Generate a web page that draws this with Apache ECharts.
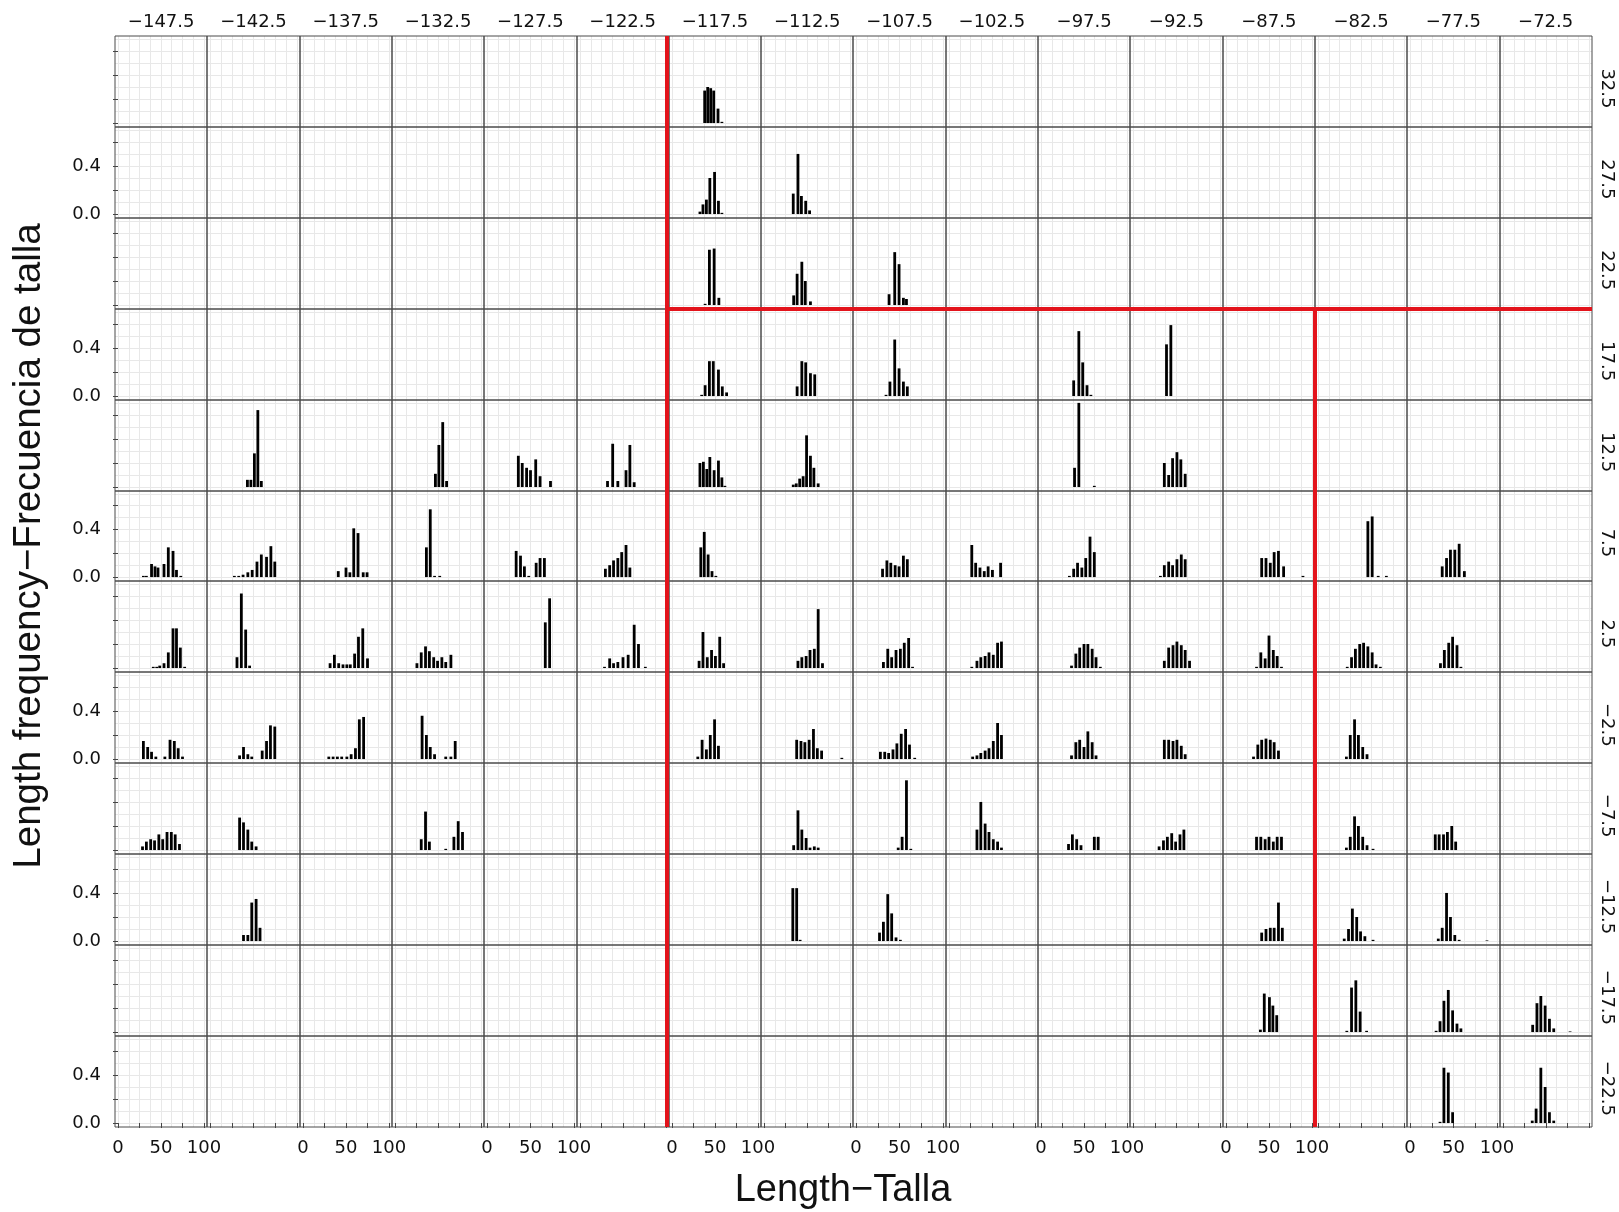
<!DOCTYPE html>
<html><head><meta charset="utf-8">
<script src="https://cdn.jsdelivr.net/npm/echarts@6/dist/echarts.min.js"></script>
<style>html,body{margin:0;padding:0;background:#fff}#c{width:1619px;height:1212px}</style>
</head><body><div id="c"></div>
<script>
// ---- facets ----
const lonVals = [-147.5,-142.5,-137.5,-132.5,-127.5,-122.5,-117.5,-112.5,-107.5,-102.5,-97.5,-92.5,-87.5,-82.5,-77.5,-72.5];
const latVals = [32.5,27.5,22.5,17.5,12.5,7.5,2.5,-2.5,-7.5,-12.5,-17.5,-22.5];
const xTickValues = [0,25,50,75,100];
const xTickLabels = [0,50,100];
const xGridValues = [0,12.5,25,37.5,50,62.5,75,87.5,100];
const yTickValues = [0,0.2,0.4,0.6];
const yTickLabels = [0,0.4];
const yGridValues = [0,0.1,0.2,0.3,0.4,0.5,0.6,0.7];

// ---- length-frequency histograms [length, frequency] ----
const h117n32 = [[38,.27],[41.5,.30],[45,.29],[48.5,.27],[53.5,.12],[58,.01]];
const h117n27 = [[32.5,.02],[36,.08],[40,.12],[44,.30],[49.5,.35],[54,.11],[58,.01]];
const h112n27 = [[34,.17],[39.5,.50],[43.5,.15],[48.5,.11],[53,.03]];
const h117n22 = [[38.5,.01],[43.5,.46],[49,.47],[54.5,.06]];
const h112n22 = [[34.5,.08],[38.5,.26],[44,.36],[48,.20],[54,.03]];
const h107n22 = [[38,.09],[44.5,.44],[49.5,.34],[54.5,.06],[58,.05]];
const h117n17 = [[34.5,.01],[38.5,.09],[43.5,.29],[48,.29],[54,.22],[58.5,.08],[63.5,.03]];
const h112n17 = [[38.5,.08],[44,.29],[48.5,.28],[54,.19],[59,.18]];
const h107n17 = [[34.5,.01],[39,.12],[44.5,.47],[49.5,.23],[54.5,.12],[59,.08]];
const h97n17 = [[38,.13],[44,.54],[48.5,.28],[53.5,.09],[58,.01]];
const h92n17 = [[38.5,.43],[43.5,.59]];
const h142n12 = [[43,.06],[47,.06],[51,.28],[55,.64],[59,.05]];
const h132n12 = [[47,.11],[51,.35],[55.5,.54],[60,.05]];
const h127n12 = [[36,.26],[40.5,.20],[45.5,.16],[50,.14],[56,.23],[61,.09],[73,.05]];
const h122n12 = [[32,.05],[38,.36],[44,.05],[53.5,.14],[58,.35],[63,.04]];
const h117n12 = [[32.5,.20],[36.5,.21],[40.5,.15],[44,.25],[49,.14],[54,.22],[58,.08],[61.5,.01]];
const h112n12 = [[34,.02],[37.5,.03],[41.5,.07],[45.5,.09],[49.5,.43],[54,.26],[58,.16],[63,.03]];
const h97n12 = [[39,.16],[44,.70],[62,.01]];
const h92n12 = [[36,.20],[41,.10],[45.5,.24],[50.5,.29],[55,.23],[60,.11]];
const h147n7 = [[29.5,.01],[33,.01],[39,.11],[43,.09],[46.5,.08],[53.5,.11],[58.5,.25],[64,.22],[68,.06],[73,.01]];
const h142n7 = [[28,.01],[33,.01],[38,.02],[43.5,.04],[48.5,.06],[54,.13],[59,.19],[65,.17],[70,.26],[74.5,.13]];
const h137n7 = [[41,.05],[50,.08],[54.5,.04],[59,.41],[64,.37],[70,.04],[74.5,.04]];
const h132n7 = [[36.5,.25],[41,.57],[46,.01],[52,.01]];
const h127n7 = [[33.5,.22],[38.5,.18],[43,.09],[48,.01],[56.5,.12],[61,.16],[66,.16]];
const h122n7 = [[29.5,.07],[34.5,.10],[39,.14],[44,.16],[48.5,.21],[53.5,.27],[58,.08]];
const h117n7 = [[33.5,.25],[37.5,.38],[42,.19],[46.5,.05],[51,.01]];
const h107n7 = [[30.5,.07],[35.5,.14],[40,.12],[45,.10],[49.5,.09],[54.5,.18],[59,.15]];
const h102n7 = [[26.5,.27],[31,.12],[36,.08],[41,.05],[45.5,.09],[50.5,.06],[60,.12]];
const h97n7 = [[33,.01],[38,.07],[42.5,.12],[47.5,.08],[52,.16],[57,.34],[62,.21]];
const h92n7 = [[31.5,.01],[36,.10],[41,.13],[45.5,.10],[50.5,.15],[55.5,.19],[60,.15]];
const h87n7 = [[41.5,.16],[46.5,.16],[51.5,.12],[56,.21],[61,.22],[67,.09],[89.5,.01]];
const h82n7 = [[58,.47],[63,.51],[70,.01],[79.5,.01]];
const h77n7 = [[37,.09],[42,.16],[46.5,.23],[51.5,.23],[56.5,.28],[62.5,.05]];
const h147n2 = [[41,.01],[45,.01],[48.5,.02],[53.5,.04],[58.5,.13],[64,.33],[68,.33],[72.5,.17],[77.5,.01]];
const h142n2 = [[31,.09],[36,.62],[41,.32],[45.5,.02]];
const h137n2 = [[31.5,.04],[36.5,.11],[41.5,.04],[46.5,.03],[51,.03],[55,.03],[60,.12],[64.5,.26],[69.5,.33],[75,.08]];
const h132n2 = [[25.5,.04],[30.5,.13],[35.5,.18],[40,.14],[45,.09],[49.5,.06],[54.5,.09],[59,.05],[65,.11]];
const h127n2 = [[67,.38],[72,.58]];
const h122n2 = [[28.5,.01],[34.5,.08],[39,.04],[44,.05],[50,.09],[56,.11],[63,.36],[68,.20],[76,.01]];
const h117n2 = [[31.5,.06],[36,.30],[41,.09],[46,.15],[50.5,.10],[55.5,.26],[60,.04]];
const h112n2 = [[39.5,.06],[44,.09],[49,.10],[53.5,.15],[58.5,.16],[63,.49],[68,.04]];
const h107n2 = [[31.5,.05],[36.5,.16],[41,.09],[46,.15],[51,.16],[55.5,.21],[60.5,.25],[65,.01]];
const h102n2 = [[26.5,.01],[32.5,.06],[37,.09],[42,.10],[46.5,.13],[51.5,.11],[56.5,.21],[61,.22]];
const h97n2 = [[35.5,.02],[40.5,.12],[45,.17],[50,.20],[54.5,.20],[59.5,.16],[64,.09],[69,.01]];
const h92n2 = [[36,.06],[41,.17],[46,.19],[50.5,.22],[55.5,.19],[60,.15],[65,.06]];
const h87n2 = [[35.5,.01],[40.5,.13],[45.5,.08],[50,.27],[55,.15],[59.5,.10],[64.5,.01]];
const h82n2 = [[34,.01],[39,.09],[43.5,.16],[48.5,.20],[53,.21],[58,.18],[63,.13],[67.5,.03],[72.5,.01]];
const h77n2 = [[35,.04],[39.5,.15],[44.5,.21],[49,.26],[54,.19],[58.5,.01]];
const h147s2 = [[29.5,.15],[34.5,.10],[39,.06],[44,.02],[54.5,.02],[60.5,.16],[65.5,.15],[70,.09],[75,.02]];
const h142s2 = [[34,.03],[38.5,.10],[43.5,.04],[48,.02],[60,.07],[65,.15],[69.5,.28],[74.5,.27]];
const h137s2 = [[30,.02],[35,.02],[40,.02],[45,.02],[51,.02],[56,.04],[61,.09],[65.5,.33],[70.5,.35]];
const h132s2 = [[31.5,.36],[36.5,.20],[41,.10],[46,.04],[59,.02],[65,.02],[70,.15]];
const h117s2 = [[30,.02],[35,.16],[40,.08],[44.5,.20],[49.5,.33],[54,.11]];
const h112s2 = [[38,.16],[43,.15],[47.5,.14],[52.5,.16],[57.5,.25],[62,.09],[67,.07],[90.5,.01]];
const h107s2 = [[28,.06],[33,.06],[37.5,.05],[42.5,.08],[47,.13],[52,.21],[57,.25],[61.5,.12],[67.5,.01]];
const h102s2 = [[27.5,.02],[32.5,.03],[37,.05],[42,.07],[46.5,.09],[51.5,.15],[56.5,.30],[61,.20]];
const h97s2 = [[35.5,.03],[40.5,.14],[45,.16],[50,.10],[54.5,.23],[59.5,.14],[64,.03]];
const h92s2 = [[36,.16],[41,.16],[46,.15],[50.5,.16],[55.5,.11],[60,.04]];
const h87s2 = [[32,.02],[37,.12],[41.5,.16],[46.5,.17],[51.5,.16],[56,.14],[61,.07]];
const h82s2 = [[33,.02],[37.5,.20],[42.5,.33],[47,.20],[52,.10],[57,.04]];
const h147s7 = [[28.5,.03],[33,.07],[38,.09],[42.5,.08],[47.5,.13],[52,.09],[57,.15],[62,.15],[66.5,.13],[71.5,.05]];
const h142s7 = [[34,.27],[38.5,.23],[43.5,.17],[48,.07],[53,.03]];
const h132s7 = [[30.5,.09],[35.5,.32],[40,.07],[59,.01],[68.5,.11],[73.5,.24],[78.5,.15]];
const h112s7 = [[34.5,.04],[39.5,.33],[44,.17],[49,.10],[53.5,.02],[58.5,.03],[63,.02]];
const h107s7 = [[48.5,.02],[53,.11],[58,.58],[63,.01]];
const h102s7 = [[32.5,.17],[37,.40],[42,.22],[46.5,.15],[51.5,.09],[56.5,.07],[61,.02]];
const h97s7 = [[32,.05],[36.5,.13],[41.5,.09],[46.5,.04],[62,.11],[66.5,.11]];
const h92s7 = [[30,.03],[35,.08],[39.5,.11],[44.5,.14],[49,.07],[54,.13],[58.5,.17]];
const h87s7 = [[35.5,.11],[40.5,.11],[45.5,.09],[50,.11],[55,.07],[59.5,.11],[64.5,.11]];
const h82s7 = [[33,.02],[37.5,.11],[42.5,.28],[47,.20],[52,.11],[57,.04],[64,.01]];
const h77s7 = [[29,.13],[33.5,.13],[38.5,.13],[43,.15],[48,.20],[52.5,.07]];
const h142s12 = [[38.5,.05],[43.5,.05],[48,.32],[53,.35],[57.5,.11]];
const h112s12 = [[33.5,.44],[38,.44],[42,.01]];
const h107s12 = [[27,.07],[31.5,.16],[36.5,.39],[41,.23],[46,.03],[51,.01]];
const h87s12 = [[41.5,.07],[46.5,.10],[51.5,.11],[56,.11],[61,.32],[65.5,.11]];
const h82s12 = [[30.5,.02],[35.5,.10],[40,.27],[45,.20],[49.5,.08],[54.5,.04],[64,.01]];
const h77s12 = [[32.5,.02],[37,.11],[42,.40],[46.5,.20],[51.5,.05],[56.5,.01],[88.5,.005]];
const h87s17 = [[40,.02],[44.5,.32],[50.5,.29],[54.5,.22],[59,.14]];
const h82s17 = [[33.5,.01],[39,.37],[44,.43],[49,.17],[56.5,.01]];
const h77s17 = [[30,.01],[34.5,.09],[39,.26],[44,.35],[49,.18],[54,.07],[58.5,.03]];
const h72s17 = [[34.5,.06],[39.5,.24],[44,.30],[49,.22],[54,.11],[59,.03],[78,.005]];
const h77s22 = [[34.5,.01],[39,.46],[44,.42],[49,.09]];
const h72s22 = [[34,.02],[38.5,.12],[44,.46],[49,.30],[54,.09],[59,.02]];

const panelList = [
  [-117.5,32.5,h117n32],
  [-117.5,27.5,h117n27],[-112.5,27.5,h112n27],
  [-117.5,22.5,h117n22],[-112.5,22.5,h112n22],[-107.5,22.5,h107n22],
  [-117.5,17.5,h117n17],[-112.5,17.5,h112n17],[-107.5,17.5,h107n17],[-97.5,17.5,h97n17],[-92.5,17.5,h92n17],
  [-142.5,12.5,h142n12],[-132.5,12.5,h132n12],[-127.5,12.5,h127n12],[-122.5,12.5,h122n12],[-117.5,12.5,h117n12],[-112.5,12.5,h112n12],[-97.5,12.5,h97n12],[-92.5,12.5,h92n12],
  [-147.5,7.5,h147n7],[-142.5,7.5,h142n7],[-137.5,7.5,h137n7],[-132.5,7.5,h132n7],[-127.5,7.5,h127n7],[-122.5,7.5,h122n7],[-117.5,7.5,h117n7],[-107.5,7.5,h107n7],[-102.5,7.5,h102n7],[-97.5,7.5,h97n7],[-92.5,7.5,h92n7],[-87.5,7.5,h87n7],[-82.5,7.5,h82n7],[-77.5,7.5,h77n7],
  [-147.5,2.5,h147n2],[-142.5,2.5,h142n2],[-137.5,2.5,h137n2],[-132.5,2.5,h132n2],[-127.5,2.5,h127n2],[-122.5,2.5,h122n2],[-117.5,2.5,h117n2],[-112.5,2.5,h112n2],[-107.5,2.5,h107n2],[-102.5,2.5,h102n2],[-97.5,2.5,h97n2],[-92.5,2.5,h92n2],[-87.5,2.5,h87n2],[-82.5,2.5,h82n2],[-77.5,2.5,h77n2],
  [-147.5,-2.5,h147s2],[-142.5,-2.5,h142s2],[-137.5,-2.5,h137s2],[-132.5,-2.5,h132s2],[-117.5,-2.5,h117s2],[-112.5,-2.5,h112s2],[-107.5,-2.5,h107s2],[-102.5,-2.5,h102s2],[-97.5,-2.5,h97s2],[-92.5,-2.5,h92s2],[-87.5,-2.5,h87s2],[-82.5,-2.5,h82s2],
  [-147.5,-7.5,h147s7],[-142.5,-7.5,h142s7],[-132.5,-7.5,h132s7],[-112.5,-7.5,h112s7],[-107.5,-7.5,h107s7],[-102.5,-7.5,h102s7],[-97.5,-7.5,h97s7],[-92.5,-7.5,h92s7],[-87.5,-7.5,h87s7],[-82.5,-7.5,h82s7],[-77.5,-7.5,h77s7],
  [-142.5,-12.5,h142s12],[-112.5,-12.5,h112s12],[-107.5,-12.5,h107s12],[-87.5,-12.5,h87s12],[-82.5,-12.5,h82s12],[-77.5,-12.5,h77s12],
  [-87.5,-17.5,h87s17],[-82.5,-17.5,h82s17],[-77.5,-17.5,h77s17],[-72.5,-17.5,h72s17],
  [-77.5,-22.5,h77s22],[-72.5,-22.5,h72s22]
];

// ---- layout ----
const L = 115, T = 36, CW = 92.3, RH = 90.9;
const NC = lonVals.length, NR = latVals.length;
const X_MIN = -3.5, X_MAX = 103.5, Y_MIN = -0.033, Y_MAX = 0.724;
const fmt = v => (v < 0 ? '\u2212' + Math.abs(v) : String(v));
const TICK_FONT = {fontFamily: '"DejaVu Sans"', fontSize: 18, color: '#111'};
const colX = c => Math.round(L + c * CW);
const rowY = r => Math.round(T + r * RH);

const grids = [], xAxes = [], yAxes = [], series = [];
for (let r = 0; r < NR; r++) {
  for (let c = 0; c < NC; c++) {
    const gi = r * NC + c;
    const isBottom = r === NR - 1, isLeft = c === 0;
    grids.push({left: colX(c), top: rowY(r), width: colX(c + 1) - colX(c), height: rowY(r + 1) - rowY(r),
      show: true, z: 1, borderColor: '#4a4a4a', borderWidth: 1, backgroundColor: 'transparent'});
    xAxes.push({gridIndex: gi, type: 'value', min: X_MIN, max: X_MAX, position: 'bottom', z: 0,
      axisLine: {show: false},
      axisTick: {show: isBottom, customValues: xTickValues, length: 5, lineStyle: {color: '#444'}},
      axisLabel: Object.assign({show: isBottom && c % 2 === 0, customValues: xTickLabels, margin: 12,
        formatter: v => String(v)}, TICK_FONT),
      splitLine: {show: false}});
    xAxes.push({gridIndex: gi, type: 'value', min: X_MIN, max: X_MAX, position: 'top', z: 0,
      axisLine: {show: false}, axisTick: {show: false, customValues: xGridValues},
      axisLabel: {show: false}, splitLine: {show: true, lineStyle: {color: '#e8e8e8', width: 1}}});
    yAxes.push({gridIndex: gi, type: 'value', min: Y_MIN, max: Y_MAX, position: 'left', z: 0,
      axisLine: {show: false},
      axisTick: {show: isLeft, customValues: yTickValues, length: 5, lineStyle: {color: '#444'}},
      axisLabel: Object.assign({show: isLeft && r % 2 === 1, customValues: yTickLabels, margin: 14,
        formatter: v => v.toFixed(1)}, TICK_FONT),
      splitLine: {show: false}});
    yAxes.push({gridIndex: gi, type: 'value', min: Y_MIN, max: Y_MAX, position: 'right', z: 0,
      axisLine: {show: false}, axisTick: {show: false, customValues: yGridValues},
      axisLabel: {show: false}, splitLine: {show: true, lineStyle: {color: '#e8e8e8', width: 1}}});
  }
}
panelList.forEach(([lon, lat, data]) => {
  const c = lonVals.indexOf(lon), r = latVals.indexOf(lat);
  const gi = r * NC + c;
  series.push({type: 'bar', xAxisIndex: 2 * gi, yAxisIndex: 2 * gi, data: data,
    barWidth: 2.8, itemStyle: {color: '#000'}, silent: true, z: 3});
});

const graphics = [];
lonVals.forEach((v, c) => graphics.push({type: 'text', x: L + (c + 0.5) * CW, y: 22,
  style: {text: fmt(v), font: '18px "DejaVu Sans"', fill: '#111', align: 'center', verticalAlign: 'middle',
  textAlign: 'center', textVerticalAlign: 'middle'}}));
latVals.forEach((v, r) => graphics.push({type: 'text', x: 1607, y: T + (r + 0.5) * RH + 7,
  rotation: -Math.PI / 2,
  style: {text: fmt(v), font: '18px "DejaVu Sans"', fill: '#111', align: 'center', verticalAlign: 'middle',
  textAlign: 'center', textVerticalAlign: 'middle'}}));
graphics.push({type: 'text', x: 843, y: 1191,
  style: {text: 'Length\u2212Talla', font: '38px "Liberation Sans"', fill: '#111', align: 'center', verticalAlign: 'middle',
  textAlign: 'center', textVerticalAlign: 'middle'}});
graphics.push({type: 'text', x: 29, y: 546, rotation: Math.PI / 2,
  style: {text: 'Length frequency\u2212Frecuencia de talla', font: '38.5px "Liberation Sans"', fill: '#111',
  align: 'center', verticalAlign: 'middle', textAlign: 'center', textVerticalAlign: 'middle'}});
// red division lines (layout annotations aligned with facet borders)
const RED = {stroke: '#e3141c', lineWidth: 4};
const xr1 = colX(6) - 2, xr2 = colX(13), yr = rowY(3), yb = rowY(NR), xr = colX(NC);
graphics.push({type: 'line', z: 100, shape: {x1: xr1, y1: T, x2: xr1, y2: yb}, style: RED});
graphics.push({type: 'line', z: 100, shape: {x1: xr1, y1: yr, x2: xr, y2: yr}, style: RED});
graphics.push({type: 'line', z: 100, shape: {x1: xr2, y1: yr, x2: xr2, y2: yb}, style: RED});

const chart = echarts.init(document.getElementById('c'), null, {renderer: 'canvas'});
chart.setOption({animation: false, backgroundColor: '#fff', grid: grids, xAxis: xAxes, yAxis: yAxes,
  series: series, graphic: {elements: graphics}});
</script></body></html>
